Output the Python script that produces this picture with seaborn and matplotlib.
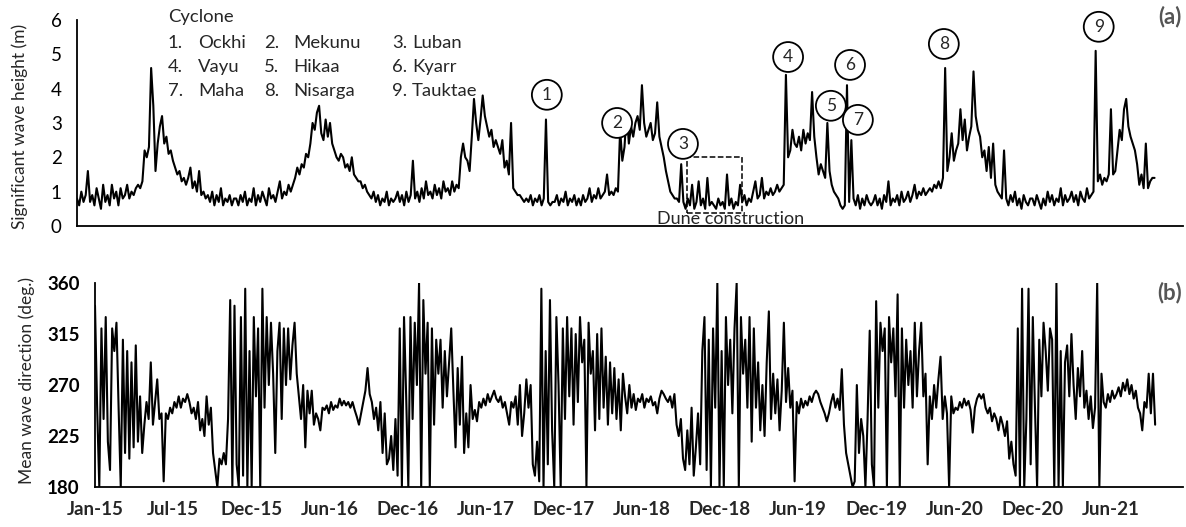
import pandas as pd
import matplotlib
matplotlib.use('Agg')
import matplotlib.pyplot as plt
import matplotlib.dates as mdates
from matplotlib.patches import Rectangle
import seaborn as sns

# 5-day samples, one list per year (2021 ends in October)
hs_2015 = [0.8, 0.6, 1.0, 0.7, 0.9, 1.6, 0.7, 0.9, 0.6, 1.1,
           0.8, 0.5, 1.2, 0.7, 0.9, 0.6, 1.2, 0.8, 1.0, 0.6,
           1.1, 0.8, 0.9, 1.2, 0.8, 1.0, 0.9, 1.1, 1.2, 1.1,
           1.3, 2.2, 2.0, 2.3, 4.6, 3.5, 1.6, 2.4, 2.9, 3.2,
           2.4, 2.6, 2.1, 2.2, 1.9, 1.7, 1.5, 1.6, 1.3, 1.4,
           1.2, 1.4, 1.7, 1.1, 1.3, 1.0, 1.6, 0.9, 1.0, 0.8,
           0.9, 0.7, 1.0, 0.6, 0.9, 0.7, 1.1, 0.6, 0.8, 0.7,
           0.9, 0.6, 0.8]
hs_2016 = [0.8, 0.6, 0.9, 0.7, 1.0, 0.6, 0.8, 0.7, 1.1, 0.6,
           0.9, 0.7, 1.0, 0.8, 0.6, 1.1, 0.8, 0.9, 0.7, 1.0,
           1.3, 0.8, 1.0, 0.9, 1.2, 1.0, 1.2, 1.4, 1.7, 1.5,
           1.8, 1.7, 2.1, 2.0, 2.4, 3.0, 2.8, 3.3, 3.5, 2.7,
           2.5, 3.1, 2.6, 3.0, 2.4, 2.2, 2.0, 1.9, 2.1, 2.0,
           1.7, 1.8, 1.6, 2.0, 1.5, 1.4, 1.3, 1.3, 1.1, 1.2,
           1.0, 0.9, 0.8, 1.0, 0.7, 0.9, 0.6, 0.8, 0.7, 1.0,
           0.6, 0.8, 0.7]
hs_2017 = [0.8, 1.0, 0.7, 0.9, 0.6, 1.0, 0.7, 0.9, 1.9, 0.8,
           1.0, 0.7, 1.1, 0.8, 1.3, 0.9, 1.0, 0.8, 1.2, 0.9,
           1.1, 0.8, 1.3, 1.0, 1.1, 0.9, 1.3, 1.0, 1.2, 1.1,
           2.0, 2.4, 2.0, 1.9, 1.6, 2.6, 3.7, 3.0, 2.5, 3.1,
           3.8, 3.2, 2.9, 2.6, 2.8, 2.3, 2.5, 2.3, 2.1, 2.5,
           1.7, 1.9, 1.5, 3.0, 1.1, 1.0, 0.9, 0.9, 0.8, 0.7,
           0.8, 0.7, 0.9, 0.6, 0.8, 0.7, 0.9, 0.6, 0.8, 3.1,
           0.7, 0.6, 0.7]
hs_2018 = [0.7, 0.9, 0.6, 0.8, 0.7, 1.0, 0.6, 0.8, 0.7, 0.9,
           0.6, 0.8, 0.6, 0.9, 0.7, 0.8, 1.1, 0.7, 0.9, 0.8,
           1.1, 0.8, 0.9, 1.0, 1.5, 0.9, 1.0, 0.9, 1.1, 1.0,
           2.8, 1.9, 2.3, 3.3, 2.4, 2.9, 2.6, 3.0, 3.2, 2.8,
           4.1, 3.0, 2.6, 2.8, 3.0, 2.5, 2.7, 3.6, 2.6, 2.3,
           2.0, 1.6, 1.3, 1.0, 0.9, 0.8, 0.8, 0.7, 1.8, 0.7,
           0.5, 0.8, 0.6, 1.2, 0.5, 0.7, 1.3, 0.6, 0.8, 0.5,
           1.4, 0.6, 0.7]
hs_2019 = [0.6, 0.5, 0.8, 0.6, 0.7, 0.5, 1.5, 0.6, 0.8, 0.5,
           0.7, 0.6, 1.2, 0.7, 0.9, 0.6, 0.8, 0.7, 1.0, 1.3,
           0.8, 0.9, 1.4, 0.8, 1.0, 0.9, 1.1, 0.9, 1.0, 1.2,
           1.0, 1.1, 1.2, 4.4, 2.0, 2.2, 2.8, 2.4, 2.3, 2.6,
           2.2, 2.8, 2.4, 2.7, 2.5, 3.9, 2.6, 2.0, 1.5, 1.8,
           1.6, 1.4, 3.0, 1.6, 1.2, 1.0, 0.9, 0.8, 0.6, 0.5,
           0.6, 4.1, 0.7, 2.5, 0.8, 0.6, 0.9, 0.5, 0.8, 0.6,
           0.9, 0.7, 0.6]
hs_2020 = [0.7, 0.9, 0.6, 0.8, 0.5, 0.9, 0.7, 1.3, 0.6, 0.8,
           0.7, 0.9, 0.6, 1.0, 0.7, 0.8, 1.0, 0.7, 0.9, 1.2,
           0.8, 1.0, 0.9, 1.1, 0.9, 1.0, 1.1, 1.0, 1.2, 1.1,
           1.3, 1.1, 1.4, 4.6, 1.6, 2.0, 2.7, 1.9, 2.2, 2.4,
           3.4, 2.5, 3.1, 2.2, 2.6, 2.9, 4.5, 3.2, 2.8, 2.6,
           2.0, 2.2, 1.6, 2.3, 1.4, 2.4, 1.2, 1.0, 0.9, 0.8,
           2.2, 0.8, 0.6, 0.9, 0.7, 1.0, 0.6, 0.8, 0.5, 0.9,
           0.7, 0.6, 0.8]
hs_2021 = [0.8, 0.6, 0.9, 0.7, 0.5, 0.8, 0.6, 1.0, 0.7, 0.9,
           0.6, 0.8, 0.7, 1.1, 0.6, 0.9, 0.7, 0.8, 1.0, 0.7,
           0.9, 0.6, 1.0, 0.8, 0.7, 1.1, 0.8, 0.9, 1.0, 5.1,
           1.3, 1.5, 1.2, 1.4, 1.3, 1.5, 3.4, 1.5, 1.6, 2.2,
           2.8, 2.5, 3.4, 3.7, 2.9, 2.6, 2.4, 2.2, 1.8, 1.2,
           1.5, 1.1, 2.4, 1.1, 1.3, 1.4, 1.4]

dir_2015 = [340, 250, 180, 320, 240, 330, 220, 195, 320, 300,
            325, 250, 180, 310, 210, 300, 205, 290, 215, 305,
            220, 260, 210, 235, 255, 240, 290, 235, 255, 275,
            240, 245, 185, 245, 240, 250, 245, 255, 250, 260,
            250, 258, 255, 262, 255, 245, 250, 240, 255, 230,
            240, 225, 260, 235, 250, 210, 195, 180, 205, 200,
            210, 200, 240, 345, 180, 340, 200, 180, 330, 190,
            355, 180, 300]
dir_2016 = [180, 330, 260, 320, 180, 355, 250, 330, 270, 325,
            280, 210, 300, 325, 240, 320, 270, 320, 275, 305,
            325, 280, 260, 240, 270, 215, 265, 245, 265, 235,
            245, 240, 230, 250, 248, 252, 245, 255, 248, 252,
            250, 258, 252, 256, 252, 255, 250, 255, 248, 242,
            235, 245, 255, 265, 285, 262, 255, 240, 250, 230,
            255, 210, 245, 200, 205, 225, 195, 240, 190, 320,
            180, 330, 260]
dir_2017 = [180, 330, 240, 325, 270, 360, 180, 345, 280, 325,
            180, 320, 235, 310, 280, 310, 250, 300, 260, 290,
            320, 265, 215, 285, 235, 295, 210, 245, 215, 270,
            240, 248, 238, 255, 250, 258, 252, 262, 255, 260,
            265, 258, 255, 260, 250, 255, 245, 235, 255, 250,
            260, 235, 270, 225, 245, 275, 250, 270, 200, 190,
            220, 185, 355, 180, 300, 200, 345, 230, 180, 330,
            270, 180, 320]
dir_2018 = [240, 330, 260, 320, 235, 315, 255, 330, 290, 310,
            180, 325, 280, 300, 230, 315, 240, 320, 250, 295,
            235, 290, 245, 285, 240, 275, 230, 280, 260, 245,
            270, 250, 262, 248, 258, 255, 262, 250, 258, 255,
            260, 252, 255, 245, 258, 265, 262, 258, 255, 260,
            250, 262, 235, 225, 240, 205, 195, 230, 200, 250,
            190, 215, 245, 200, 300, 330, 195, 310, 180, 320,
            250, 360, 180]
dir_2019 = [300, 180, 330, 270, 310, 245, 320, 360, 180, 330,
            280, 310, 250, 330, 220, 320, 250, 290, 230, 270,
            225, 290, 335, 240, 280, 245, 275, 230, 265, 325,
            255, 285, 250, 265, 185, 255, 245, 258, 250, 256,
            252, 260, 255, 262, 265, 262, 255, 250, 245, 238,
            245, 255, 262, 250, 258, 248, 284, 235, 210, 200,
            190, 180, 185, 270, 210, 240, 225, 180, 240, 318,
            200, 180, 344]
dir_2020 = [250, 325, 300, 320, 180, 330, 290, 320, 260, 350,
            180, 320, 250, 310, 270, 300, 250, 325, 260, 300,
            325, 260, 280, 200, 260, 240, 270, 250, 275, 295,
            240, 260, 245, 180, 260, 245, 250, 248, 255, 250,
            258, 252, 256, 248, 228, 250, 258, 262, 258, 262,
            250, 245, 250, 238, 245, 240, 230, 242, 235, 225,
            238, 205, 220, 200, 190, 320, 180, 355, 180, 240,
            355, 200, 330]
dir_2021 = [250, 180, 310, 260, 325, 300, 265, 320, 310, 180,
            360, 180, 300, 180, 290, 305, 260, 315, 270, 240,
            285, 260, 300, 250, 265, 240, 260, 232, 250, 360,
            180, 280, 255, 250, 262, 255, 265, 258, 262, 268,
            260, 272, 265, 275, 262, 270, 258, 265, 250, 245,
            230, 255, 250, 280, 245, 280, 235]

cyclones = ['Ockhi', 'Mekunu', 'Luban', 'Vayu', 'Hikaa', 'Kyarr',
            'Maha', 'Nisarga', 'Tauktae']

hs = hs_2015 + hs_2016 + hs_2017 + hs_2018 + hs_2019 + hs_2020 + hs_2021
mwd = dir_2015 + dir_2016 + dir_2017 + dir_2018 + dir_2019 + dir_2020 + dir_2021
start = pd.Timestamp('2015-01-01')
df = pd.DataFrame({'date': pd.date_range(start, periods=len(hs), freq='5D'),
                   'hs': hs, 'dir': mwd})

# where the numbered circles sit (days after 1 Jan 2015, metres)
circle_day = [1077, 1238, 1389, 1630, 1728, 1772, 1790, 1987, 2342]
circle_y = [3.82, 3.0, 2.39, 4.92, 3.5, 4.69, 3.09, 5.3, 5.8]

sns.set_style('white')
plt.rcParams['font.family'] = ['Lato', 'DejaVu Sans']

fig = plt.figure(figsize=(11.86, 5.27), dpi=100)
ax_a = fig.add_axes([0.0649, 0.5712, 0.9325, 0.391])
ax_b = fig.add_axes([0.0801, 0.0759, 0.9174, 0.387])

sns.lineplot(data=df, x='date', y='hs', ax=ax_a, color='black', lw=1.5, estimator=None)
sns.lineplot(data=df, x='date', y='dir', ax=ax_b, color='black', lw=1.5, estimator=None)

ticks = [start + pd.Timedelta(days=182 * k) for k in range(14)]
tick_labels = [t.strftime('%b-%y') for t in ticks]
xmax = start + pd.Timedelta(days=2535)

for ax in (ax_a, ax_b):
    ax.set_xlim(start, xmax)
    ax.set_xticks(ticks)
    ax.set_xlabel('')
    sns.despine(ax=ax)
    for s in ('left', 'bottom'):
        ax.spines[s].set_color('black')
        ax.spines[s].set_linewidth(1.3)
    ax.tick_params(axis='x', direction='in', length=5, width=1, color='black')
    ax.tick_params(axis='y', length=0, pad=11, labelsize=13.5, labelcolor='black')

ax_a.set_xticklabels([])
ax_a.set_ylim(0, 6)
ax_a.set_yticks(range(7))
ax_a.set_ylabel('Significant wave height (m)', fontsize=12.5)
ax_a.yaxis.set_label_coords(-0.0443, 0.485)

ax_b.set_xticklabels(tick_labels, fontsize=13.5, fontweight='bold')
ax_b.tick_params(axis='x', pad=10)
ax_b.set_ylim(180, 360)
ax_b.set_yticks([180, 225, 270, 315, 360])
for lab in ax_b.get_yticklabels():
    lab.set_fontweight('bold')
ax_b.set_ylabel('Mean wave direction (deg.)', fontsize=12.5)
ax_b.yaxis.set_label_coords(-0.0551, 0.524)

# numbered cyclone markers
for i, (d, y) in enumerate(zip(circle_day, circle_y)):
    x = mdates.date2num(start + pd.Timedelta(days=d))
    ax_a.text(x, y, str(i + 1), ha='center', va='center', fontsize=12.5,
              bbox=dict(boxstyle='circle,pad=0.4', fc='white', ec='black', lw=1.3),
              zorder=5, clip_on=False)

# dune construction window
x0 = mdates.date2num(start + pd.Timedelta(days=1398))
x1 = mdates.date2num(start + pd.Timedelta(days=1524))
ax_a.add_patch(Rectangle((x0, 0.38), x1 - x0, 1.63, fill=False, ls='--', lw=1.1,
                         ec='black', zorder=4))
ax_a.text(mdates.date2num(start + pd.Timedelta(days=1499)), 0.2, 'Dune construction',
          ha='center', va='center', fontsize=13, zorder=6)

# cyclone list
fig.text(168 / 1186, 1 - 17 / 527, 'Cyclone', fontsize=13.3, va='center')
col_num = [168, 264, 392]
col_name = [198, 293, 412]
row_y = [43, 67, 91]
for i, name in enumerate(cyclones):
    r, c = divmod(i, 3)
    fig.text(col_num[c] / 1186, 1 - row_y[r] / 527, f'{i + 1}.', fontsize=13.3, va='center')
    fig.text(col_name[c] / 1186, 1 - row_y[r] / 527, name, fontsize=13.3, va='center')

fig.text(1182 / 1186, 1 - 17 / 527, '(a)', ha='right', va='center', fontsize=16,
         fontweight='bold', color='#555555')
fig.text(1182 / 1186, 1 - 293 / 527, '(b)', ha='right', va='center', fontsize=16,
         fontweight='bold', color='#555555')

fig.savefig('out.png', dpi=100)
